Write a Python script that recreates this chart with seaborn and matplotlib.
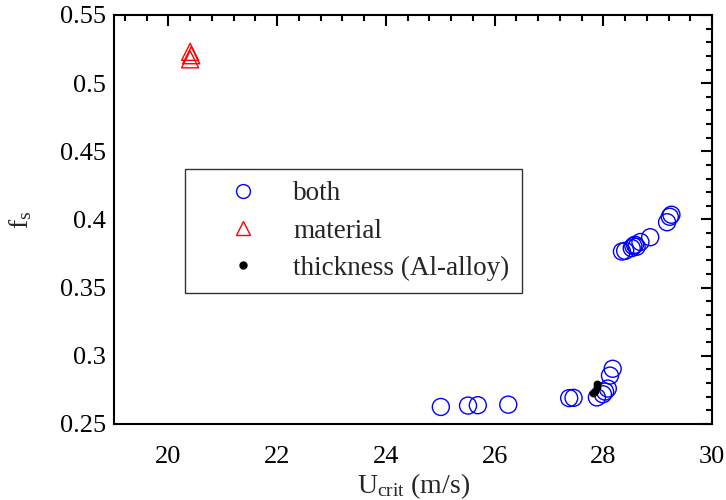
import matplotlib
matplotlib.use("Agg")
import matplotlib.pyplot as plt
from matplotlib.lines import Line2D
from matplotlib.ticker import MultipleLocator
import seaborn as sns

# U_crit (m/s) and f_s
both_u = [25.01, 25.51, 25.69, 26.25, 27.37, 27.45, 27.88, 27.99, 28.03, 28.08,
          28.12, 28.17, 28.34, 28.40, 28.52, 28.55, 28.58, 28.61, 28.68, 28.86,
          29.17, 29.22, 29.25]
both_fs = [0.2625, 0.2635, 0.2638, 0.2642, 0.2690, 0.2692, 0.2695, 0.2718, 0.2738, 0.2760,
           0.2855, 0.2905, 0.3765, 0.3770, 0.3790, 0.3805, 0.3815, 0.3800, 0.3835, 0.3870,
           0.3980, 0.4020, 0.4035]
material_u = [20.40, 20.42, 20.40]
material_fs = [0.5175, 0.5205, 0.5230]
thick_u = [27.80, 27.84, 27.88, 27.88]
thick_fs = [0.2725, 0.2745, 0.2770, 0.2790]

sns.set_style("white")
plt.rcParams["font.family"] = ["Liberation Serif", "DejaVu Serif"]
plt.rcParams["mathtext.fontset"] = "custom"
plt.rcParams["mathtext.rm"] = "Liberation Serif"
plt.rcParams["mathtext.it"] = "Liberation Serif:italic"

fig = plt.figure(figsize=(7.26, 5.0), dpi=100)
ax = fig.add_axes([0.157, 0.152, 0.824, 0.818])

sns.scatterplot(x=both_u, y=both_fs, marker="o", s=150, facecolor="none",
                edgecolor="blue", linewidth=1.0, ax=ax)
sns.scatterplot(x=material_u, y=material_fs, marker="^", s=150, facecolor="none",
                edgecolor="red", linewidth=1.0, ax=ax)
sns.scatterplot(x=thick_u, y=thick_fs, marker="o", s=32, color="black",
                edgecolor="black", linewidth=0, ax=ax)

ax.set_xlim(19, 30)
ax.set_ylim(0.25, 0.55)
ax.xaxis.set_major_locator(MultipleLocator(2))
ax.xaxis.set_minor_locator(MultipleLocator(0.4))
ax.yaxis.set_major_locator(MultipleLocator(0.05))
ax.yaxis.set_minor_locator(MultipleLocator(0.01))
ax.yaxis.set_major_formatter(plt.FuncFormatter(lambda v, p: f"{v:.2f}".rstrip("0")))

ax.tick_params(which="both", direction="in", top=True, right=True,
               labelsize=19, width=1.5, colors="black")
ax.tick_params(which="major", length=8)
ax.tick_params(which="minor", length=4)
ax.tick_params(axis="x", which="both", pad=16)
ax.tick_params(axis="y", which="both", pad=6)
for sp in ax.spines.values():
    sp.set_color("black")
    sp.set_linewidth(1.5)

ax.set_xlabel(r"U$_{\rm crit}$ (m/s)", fontsize=20, labelpad=2)
ax.set_ylabel(r"f$_{\rm s}$", fontsize=20, labelpad=18)

handles = [
    Line2D([], [], ls="none", marker="o", ms=10, mfc="none", mec="blue", mew=1.0),
    Line2D([], [], ls="none", marker="^", ms=10, mfc="none", mec="red", mew=1.0),
    Line2D([], [], ls="none", marker="o", ms=5, mfc="black", mec="black"),
]
leg = ax.legend(handles, ["both", "material", "thickness (Al-alloy)"],
                loc="upper left", bbox_to_anchor=(0.1187, 0.623), fontsize=19.5,
                frameon=True, fancybox=False, edgecolor="black",
                borderaxespad=0, borderpad=0.45, handletextpad=0.15,
                labelspacing=0.45, handlelength=3.4)
leg.get_frame().set_linewidth(1.0)

fig.savefig("out.png", dpi=100)
